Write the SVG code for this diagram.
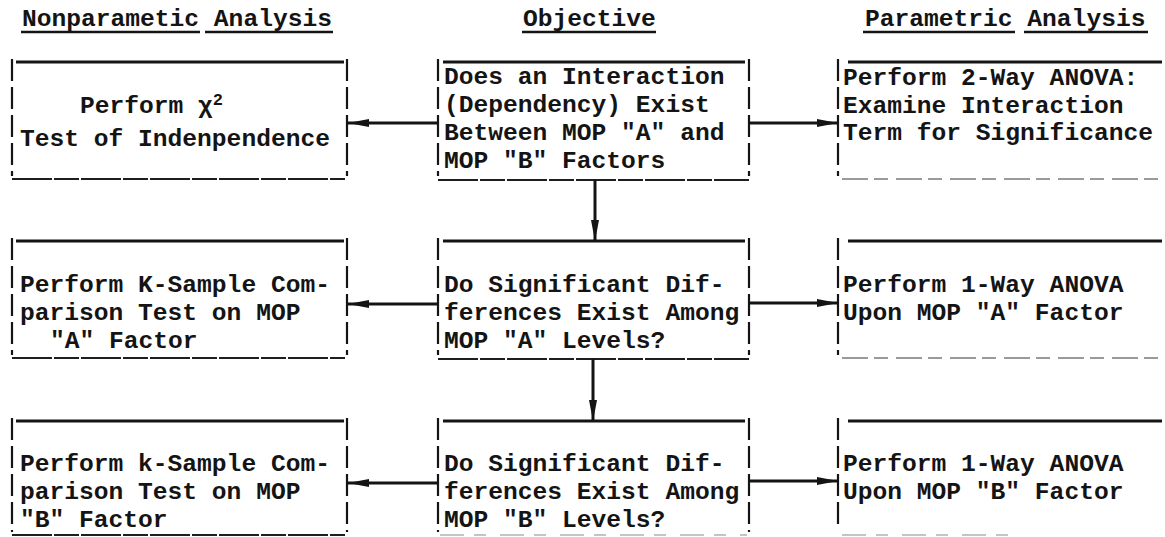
<svg xmlns="http://www.w3.org/2000/svg" width="1165" height="537" viewBox="0 0 1165 537">
<style>
.t{font-family:"Liberation Mono","DejaVu Sans Mono",monospace;font-size:24.6px;font-weight:bold;fill:#141414}
.sup{font-size:17px}
.ul{stroke:#141414;stroke-width:2.5}
.top{stroke:#141414;stroke-width:3}
.bot{stroke:#1e1e1e;stroke-width:2.2;stroke-dasharray:40 2 25 2}
.botl{stroke:#9a9a9a;stroke-width:2;stroke-dasharray:26 6 14 8}
.botf{stroke:#c4c4c4;stroke-width:2;stroke-dasharray:24 10 12 14}
.side{stroke:#141414;stroke-width:2.2;stroke-dasharray:22 6}
.conn{stroke:#141414;stroke-width:3;fill:none}
</style>
<defs>
<marker id="ah" markerUnits="userSpaceOnUse" markerWidth="22" markerHeight="10" refX="21" refY="5" orient="auto">
<path d="M0,1 L21,5 L0,9 z" fill="#141414"/>
</marker>
</defs>
<rect width="1165" height="537" fill="#ffffff"/>

<g id="headers">
<text class="t" x="22" y="26">Nonparametic Analysis</text>
<line class="ul" x1="21" y1="32" x2="200" y2="32"/>
<line class="ul" x1="205" y1="32" x2="333" y2="32"/>
<text class="t" x="523" y="26">Objective</text>
<line class="ul" x1="522" y1="32" x2="656" y2="32"/>
<text class="t" x="865" y="26">Parametric Analysis</text>
<line class="ul" x1="863" y1="32" x2="1015" y2="32"/>
<line class="ul" x1="1024" y1="32" x2="1148" y2="32"/>
</g>

<!-- Row 1 -->
<g id="n-chi2">
<line class="top" x1="16" y1="62" x2="344" y2="62"/>
<line class="side" x1="12" y1="59" x2="12" y2="176"/>
<line class="side" x1="347" y1="59" x2="347" y2="176"/>
<line class="bot" x1="12" y1="179" x2="345" y2="179"/>
<text class="t" x="80" y="113">Perform χ<tspan class="sup" dy="-8">2</tspan></text>
<text class="t" x="20" y="146">Test of Indenpendence</text>
</g>
<g id="n-interaction">
<line class="top" x1="443" y1="62" x2="745" y2="62"/>
<line class="side" x1="438" y1="59" x2="438" y2="176"/>
<line class="side" x1="749" y1="59" x2="749" y2="176"/>
<line class="bot" x1="438" y1="180" x2="749" y2="180"/>
<text class="t" x="444" y="84">Does an Interaction</text>
<text class="t" x="444" y="112">(Dependency) Exist</text>
<text class="t" x="444" y="140">Between MOP "A" and</text>
<text class="t" x="444" y="168">MOP "B" Factors</text>
</g>
<g id="n-anova2">
<line class="top" x1="848" y1="62" x2="1162" y2="62"/>
<line class="side" x1="838" y1="59" x2="838" y2="176"/>
<line class="botl" x1="842" y1="179" x2="1160" y2="179"/>
<text class="t" x="843" y="85">Perform 2-Way ANOVA:</text>
<text class="t" x="843" y="113">Examine Interaction</text>
<text class="t" x="843" y="140">Term for Significance</text>
</g>

<!-- Row 2 -->
<g id="n-ksampleA">
<line class="top" x1="16" y1="241" x2="344" y2="241"/>
<line class="side" x1="12" y1="238" x2="12" y2="355"/>
<line class="side" x1="347" y1="238" x2="347" y2="355"/>
<line class="bot" x1="12" y1="358" x2="345" y2="358"/>
<text class="t" x="20" y="292">Perform K-Sample Com-</text>
<text class="t" x="20" y="320">parison Test on MOP</text>
<text class="t" x="50" y="348">"A" Factor</text>
</g>
<g id="n-diffA">
<line class="top" x1="443" y1="241" x2="745" y2="241"/>
<line class="side" x1="438" y1="238" x2="438" y2="355"/>
<line class="side" x1="749" y1="238" x2="749" y2="355"/>
<line class="bot" x1="438" y1="359" x2="749" y2="359"/>
<text class="t" x="444" y="292">Do Significant Dif-</text>
<text class="t" x="444" y="320">ferences Exist Among</text>
<text class="t" x="444" y="348">MOP "A" Levels?</text>
</g>
<g id="n-anova1A">
<line class="top" x1="848" y1="241" x2="1162" y2="241"/>
<line class="side" x1="838" y1="238" x2="838" y2="355"/>
<line class="botl" x1="842" y1="358" x2="1160" y2="358"/>
<text class="t" x="843" y="292">Perform 1-Way ANOVA</text>
<text class="t" x="843" y="320">Upon MOP "A" Factor</text>
</g>

<!-- Row 3 -->
<g id="n-ksampleB">
<line class="top" x1="16" y1="421" x2="344" y2="421"/>
<line class="side" x1="12" y1="418" x2="12" y2="532"/>
<line class="side" x1="347" y1="418" x2="347" y2="532"/>
<line class="bot" x1="12" y1="535" x2="345" y2="535"/>
<text class="t" x="20" y="471">Perform k-Sample Com-</text>
<text class="t" x="20" y="499">parison Test on MOP</text>
<text class="t" x="20" y="527">"B" Factor</text>
</g>
<g id="n-diffB">
<line class="top" x1="443" y1="421" x2="745" y2="421"/>
<line class="side" x1="438" y1="418" x2="438" y2="532"/>
<line class="side" x1="749" y1="418" x2="749" y2="532"/>
<line class="botf" x1="440" y1="535" x2="747" y2="535"/>
<text class="t" x="444" y="471">Do Significant Dif-</text>
<text class="t" x="444" y="499">ferences Exist Among</text>
<text class="t" x="444" y="527">MOP "B" Levels?</text>
</g>
<g id="n-anova1B">
<line class="top" x1="848" y1="421" x2="1162" y2="421"/>
<line class="side" x1="838" y1="418" x2="838" y2="528"/>
<line class="botf" x1="842" y1="535" x2="1010" y2="535"/>
<text class="t" x="843" y="471">Perform 1-Way ANOVA</text>
<text class="t" x="843" y="499">Upon MOP "B" Factor</text>
</g>

<g id="connectors">
<path class="conn" d="M438,123 L348,123" marker-end="url(#ah)"/>
<path class="conn" d="M749,123 L838,123" marker-end="url(#ah)"/>
<path class="conn" d="M595,180 L595,241" marker-end="url(#ah)"/>
<path class="conn" d="M438,304 L348,304" marker-end="url(#ah)"/>
<path class="conn" d="M749,303 L838,303" marker-end="url(#ah)"/>
<path class="conn" d="M593,359 L593,421" marker-end="url(#ah)"/>
<path class="conn" d="M438,483 L348,483" marker-end="url(#ah)"/>
<path class="conn" d="M749,481 L838,481" marker-end="url(#ah)"/>
</g>
</svg>
